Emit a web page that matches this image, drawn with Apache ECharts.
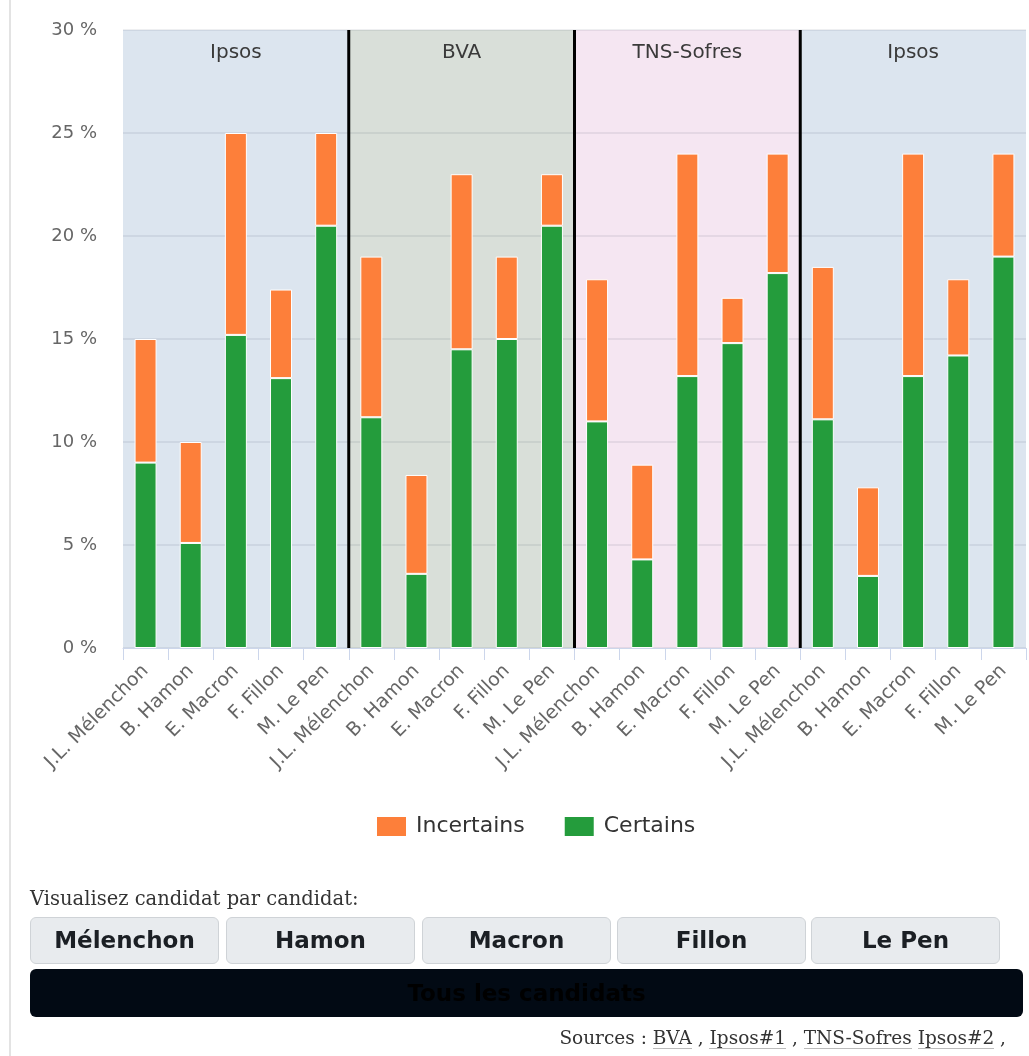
<!DOCTYPE html>
<html>
<head>
<meta charset="utf-8">
<script src="https://cdn.jsdelivr.net/npm/echarts@6/dist/echarts.min.js"></script>
<style>
  html, body { margin: 0; padding: 0; background: #fff; }
  #wrap { position: relative; width: 1029px; height: 1056px; overflow: hidden; }
  #chart { position: absolute; left: 0; top: 0; width: 1029px; height: 1056px; }
  #edge { position: absolute; left: 9px; top: 0; width: 2px; height: 1056px; background: #e3e3e3; }
  #intro { position: absolute; left: 30px; top: 887px; font-family: "DejaVu Serif", serif; font-size: 19.5px; color: #333; }
  .btn { position: absolute; top: 917px; height: 45px; width: 187px; background: #e8ebee; border: 1px solid #cfd3d7; border-radius: 6px;
         font-family: "DejaVu Sans", sans-serif; font-weight: bold; font-size: 23px; color: #1b1f24; text-align: center; line-height: 45px; }
  #all { position: absolute; left: 30px; top: 969px; width: 993px; height: 48px; background: #020a14; border-radius: 6px;
         font-family: "DejaVu Sans", sans-serif; font-weight: bold; font-size: 23px; color: #000; text-align: center; line-height: 48px; }
  #sources { position: absolute; right: 23px; top: 1027px; font-family: "DejaVu Serif", serif; font-size: 18.5px; color: #333; white-space: nowrap; }
  #sources span.l { border-bottom: 1px solid #bbb; }
</style>
</head>
<body>
<div id="wrap">
  <div id="chart"></div>
  <div id="edge"></div>
  <div id="intro">Visualisez candidat par candidat:</div>
  <div class="btn" style="left:30px">Mélenchon</div>
  <div class="btn" style="left:226px">Hamon</div>
  <div class="btn" style="left:422px">Macron</div>
  <div class="btn" style="left:617px">Fillon</div>
  <div class="btn" style="left:811px">Le Pen</div>
  <div id="all">Tous les candidats</div>
  <div id="sources">Sources : <span class="l">BVA</span> , <span class="l">Ipsos#1</span> , <span class="l">TNS-Sofres</span> <span class="l">Ipsos#2</span> ,</div>
</div>
<script>
// ---- data ----
const pollsters = ['Ipsos', 'BVA', 'TNS-Sofres', 'Ipsos'];
const pollsterColors = ['#dce5ef', '#d9dfd9', '#f5e6f2', '#dce5ef'];
const candidates = ['J.L. Mélenchon', 'B. Hamon', 'E. Macron', 'F. Fillon', 'M. Le Pen'];
const certains   = [9, 5.1, 15.2, 13.1, 20.5,   11.2, 3.6, 14.5, 15, 20.5,   11, 4.3, 13.2, 14.8, 18.2,   11.1, 3.5, 13.2, 14.2, 19];
const incertains = [6, 4.9, 9.8, 4.3, 4.5,      7.8, 4.8, 8.5, 4, 2.5,       6.9, 4.6, 10.8, 2.2, 5.8,    7.4, 4.3, 10.8, 3.7, 5];
const yMax = 30;
const yStep = 5;

// ---- build ----
const categories = [];
pollsters.forEach((p, i) => candidates.forEach((c) => categories.push(c + '|' + i)));
const nCand = candidates.length;
const bands = pollsters.map((p, i) => [i * nCand, (i + 1) * nCand, i]);
const separators = pollsters.slice(1).map((p, i) => [(i + 1) * nCand, 0]);
const FONT = '"DejaVu Sans", sans-serif';

const chart = echarts.init(document.getElementById('chart'), null, { renderer: 'canvas' });
chart.setOption({
  animation: false,
  backgroundColor: 'transparent',
  grid: { left: 123, right: 3, top: 30, bottom: 408, containLabel: false },
  legend: {
    data: ['Incertains', 'Certains'],
    left: 370, top: 810,
    icon: 'rect', itemWidth: 31, itemHeight: 21, itemGap: 38,
    selectedMode: false,
    textStyle: { fontFamily: FONT, fontSize: 22, color: '#333', padding: [0, 0, 0, 4] }
  },
  xAxis: [{
    type: 'category',
    data: categories,
    axisLine: { lineStyle: { color: '#ccd6eb', width: 1 } },
    axisTick: { show: true, length: 12, lineStyle: { color: '#ccd6eb' } },
    axisLabel: {
      rotate: 45, margin: 20, fontFamily: FONT, fontSize: 19, color: '#666',
      interval: 0,
      formatter: (v) => v.split('|')[0]
    },
    splitLine: { show: false }
  }, {
    type: 'value', min: 0, max: categories.length, show: false
  }],
  yAxis: {
    type: 'value', min: 0, max: yMax, interval: yStep,
    axisLine: { show: false }, axisTick: { show: false },
    axisLabel: { formatter: '{value} %', fontFamily: FONT, fontSize: 18, color: '#666', margin: 26 },
    splitLine: { lineStyle: { color: 'rgba(20,30,60,0.07)', width: 2 } }
  },
  series: [
    {
      type: 'custom', xAxisIndex: 1, z: -1, silent: true,
      data: bands,
      encode: { x: [0, 1] },
      renderItem: (params, api) => {
        const a = api.coord([api.value(0), yMax]);
        const b = api.coord([api.value(1), 0]);
        const idx = api.value(2);
        return {
          type: 'group',
          children: [
            { type: 'rect', shape: { x: a[0], y: a[1], width: b[0] - a[0], height: b[1] - a[1] },
              style: { fill: pollsterColors[idx] } },
            { type: 'text', x: (a[0] + b[0]) / 2, y: a[1] + 23,
              style: { text: pollsters[idx], align: 'center', verticalAlign: 'middle',
                       fontFamily: FONT, fontSize: 20, fill: '#3a3a3a' } }
          ]
        };
      }
    },
    {
      type: 'custom', xAxisIndex: 1, z: 5, silent: true,
      data: separators,
      encode: { x: 0 },
      renderItem: (params, api) => {
        const a = api.coord([api.value(0), yMax]);
        const b = api.coord([api.value(0), 0]);
        return { type: 'line', shape: { x1: a[0], y1: a[1], x2: b[0], y2: b[1] },
                 style: { stroke: '#000', lineWidth: 3 } };
      }
    },
    {
      name: 'Certains', type: 'bar', stack: 'tot', data: certains, barWidth: 22,
      itemStyle: { color: '#249c3c', borderColor: '#fff', borderWidth: 1 }
    },
    {
      name: 'Incertains', type: 'bar', stack: 'tot', data: incertains, barWidth: 22,
      itemStyle: { color: '#fd7f3a', borderColor: '#fff', borderWidth: 1 }
    }
  ]
});
</script>
</body>
</html>
